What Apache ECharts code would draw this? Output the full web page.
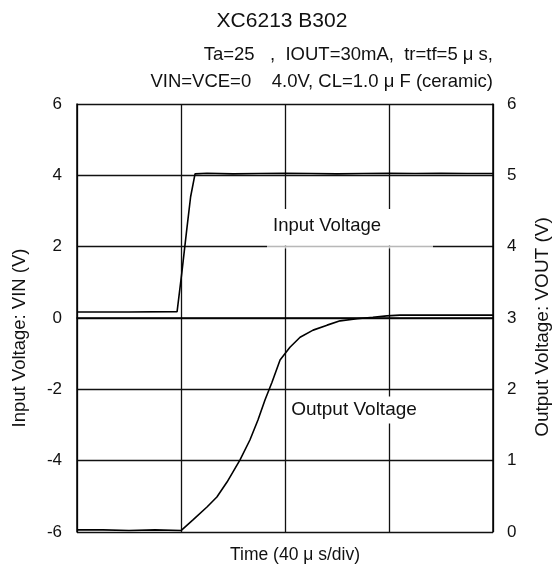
<!DOCTYPE html>
<html>
<head>
<meta charset="utf-8">
<script src="https://cdn.jsdelivr.net/npm/echarts@6/dist/echarts.min.js"></script>
<style>html,body{margin:0;padding:0;background:#fff}#c{width:557px;height:572px}</style>
</head>
<body>
<div id="c"></div>
<script>
// Time in microseconds (4 divisions x 40 us)
var xTicks = [0, 40, 80, 120, 160];
var leftTicks = [-6, -4, -2, 0, 2, 4, 6];
var rightTicks = [0, 1, 2, 3, 4, 5, 6];

var inputTime = [0, 20, 38.5, 40.3, 42.2, 43.7, 45.4, 50, 60, 70, 80, 90, 100, 110, 120, 130, 140, 150, 160];
var inputVolt = [0.17, 0.17, 0.18, 1.26, 2.47, 3.40, 4.04, 4.06, 4.04, 4.05, 4.06, 4.05, 4.04, 4.05, 4.06, 4.05, 4.06, 4.05, 4.05];

var outputTime = [0, 10, 20, 30, 40, 44.6, 50, 53.8, 57.7, 62.7, 66.5, 69.6, 72.3, 75, 78.1, 81.9, 85.8, 90.8, 96.2, 101.2, 107.7, 113.8, 119.2, 124.2, 140, 160];
var outputVolt = [0.03, 0.03, 0.02, 0.03, 0.02, 0.17, 0.35, 0.49, 0.70, 1.01, 1.29, 1.57, 1.85, 2.10, 2.41, 2.59, 2.73, 2.83, 2.90, 2.96, 2.99, 3.01, 3.03, 3.04, 3.04, 3.04];

var titleText = 'XC6213 B302';
var condLine1 = 'Ta=25   ,  IOUT=30mA,  tr=tf=5 μ s,';
var condLine2 = 'VIN=VCE=0    4.0V, CL=1.0 μ F (ceramic)';
var leftName = 'Input Voltage: VIN (V)';
var rightName = 'Output Voltage: VOUT (V)';
var xName = 'Time (40 μ s/div)';
var inLabel = 'Input Voltage';
var outLabel = 'Output Voltage';

var FONT = '"Liberation Sans", Arial, sans-serif';
function pairs(a, b) { return a.map(function (v, i) { return [v, b[i]]; }); }

var chart = echarts.init(document.getElementById('c'), null, {renderer: 'canvas'});
var option = {
  backgroundColor: '#fff',
  animation: false,
  textStyle: {fontFamily: FONT},
  grid: {left: 77, right: 64, top: 104, bottom: 40, containLabel: false},
  xAxis: {
    type: 'value', min: xTicks[0], max: xTicks[xTicks.length - 1], interval: 40,
    axisLine: {show: true, lineStyle: {color: '#000', width: 1.5}},
    axisTick: {show: false}, axisLabel: {show: false},
    splitLine: {show: true, lineStyle: {color: '#111', width: 1.3}}
  },
  yAxis: [{
    type: 'value', min: leftTicks[0], max: leftTicks[leftTicks.length - 1], interval: 2, position: 'left',
    axisLine: {show: true, lineStyle: {color: '#000', width: 1.5}},
    axisTick: {show: false},
    axisLabel: {color: '#111', fontSize: 17, margin: 15, fontFamily: FONT},
    splitLine: {show: true, lineStyle: {color: '#111', width: 1.3}}
  }, {
    type: 'value', min: rightTicks[0], max: rightTicks[rightTicks.length - 1], interval: 1, position: 'right',
    axisLine: {show: true, lineStyle: {color: '#000', width: 1.5}},
    axisTick: {show: false},
    axisLabel: {color: '#111', fontSize: 17, margin: 14, fontFamily: FONT},
    splitLine: {show: false}
  }],
  series: [{
    type: 'line', yAxisIndex: 0, data: pairs(inputTime, inputVolt), showSymbol: false,
    lineStyle: {color: '#000', width: 1.6}, z: 5
  }, {
    type: 'line', yAxisIndex: 1, data: pairs(outputTime, outputVolt), showSymbol: false,
    lineStyle: {color: '#000', width: 1.6}, z: 5
  }],
  graphic: [
    {type: 'text', x: 282, y: 21, style: {text: titleText, fontSize: 21, fill: '#111', align: 'center', verticalAlign: 'middle', fontFamily: FONT}},
    {type: 'text', x: 493, y: 55, style: {text: condLine1, fontSize: 18.5, fill: '#111', align: 'right', verticalAlign: 'middle', fontFamily: FONT}},
    {type: 'text', x: 493, y: 82, style: {text: condLine2, fontSize: 18.5, fill: '#111', align: 'right', verticalAlign: 'middle', fontFamily: FONT}},
    {type: 'rect', shape: {x: 267, y: 209, width: 166, height: 36.5}, style: {fill: '#fff'}, z: 10},
    {type: 'rect', shape: {x: 267, y: 245.5, width: 166, height: 3}, style: {fill: 'rgba(255,255,255,0.7)'}, z: 10},
    {type: 'text', x: 327, y: 226, style: {text: inLabel, fontSize: 18.5, fill: '#111', align: 'center', verticalAlign: 'middle', fontFamily: FONT}, z: 11},
    {type: 'text', x: 354, y: 410, style: {text: outLabel, fontSize: 19, fill: '#111', align: 'center', verticalAlign: 'middle', fontFamily: FONT, backgroundColor: '#fff', padding: [4, 3]}, z: 11},
    {type: 'text', x: 20, y: 338, rotation: Math.PI / 2, style: {text: leftName, fontSize: 18.5, fill: '#111', align: 'center', verticalAlign: 'middle', fontFamily: FONT}},
    {type: 'text', x: 543, y: 327, rotation: Math.PI / 2, style: {text: rightName, fontSize: 19, fill: '#111', align: 'center', verticalAlign: 'middle', fontFamily: FONT}},
    {type: 'text', x: 295, y: 555, style: {text: xName, fontSize: 17.5, fill: '#111', align: 'center', verticalAlign: 'middle', fontFamily: FONT}}
  ]
};
chart.setOption(option);
</script>
</body>
</html>
